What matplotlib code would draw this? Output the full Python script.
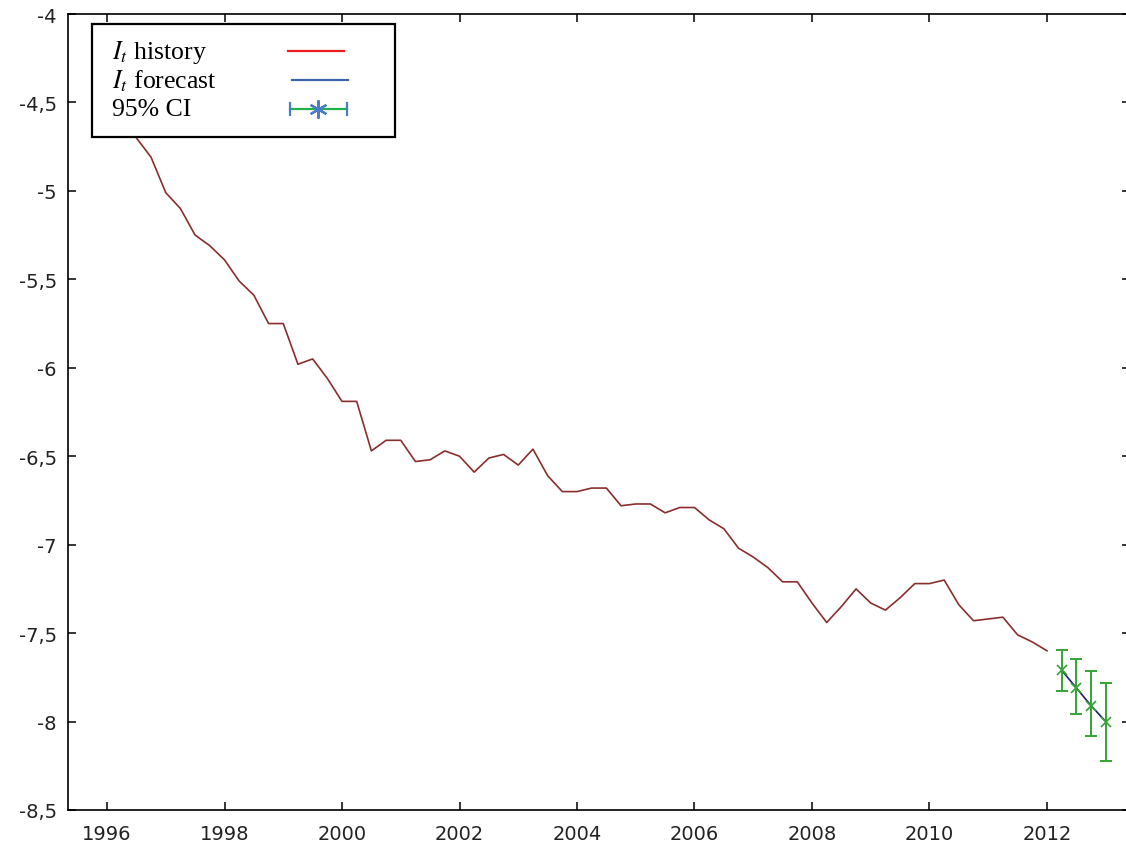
import numpy as np
import matplotlib
matplotlib.use("Agg")
import matplotlib.pyplot as plt
from matplotlib.lines import Line2D
from matplotlib.patches import Rectangle
from matplotlib.ticker import FuncFormatter

# Quarterly history of I_t, starting 1996Q2 (1996.25) and ending 2012.0
hist_start = 1996.25
hist_values = [
    -4.62, -4.70, -4.81, -5.01, -5.10, -5.25, -5.31,
    -5.39, -5.51, -5.59, -5.75, -5.75, -5.98, -5.95, -6.06,
    -6.19, -6.19, -6.47, -6.41, -6.41, -6.53, -6.52, -6.47,
    -6.50, -6.59, -6.51, -6.49, -6.55, -6.46, -6.61, -6.70,
    -6.70, -6.68, -6.68, -6.78, -6.77, -6.77, -6.82, -6.79,
    -6.79, -6.86, -6.91, -7.02, -7.07, -7.13, -7.21, -7.21,
    -7.33, -7.44, -7.35, -7.25, -7.33, -7.37, -7.30, -7.22,
    -7.22, -7.20, -7.34, -7.43, -7.42, -7.41, -7.51, -7.55,
    -7.60,
]

# Forecast with 95% interval
fc_years = [2012.25, 2012.5, 2012.75, 2013.0]
fc_values = [-7.71, -7.81, -7.91, -8.00]
fc_lower = [-7.825, -7.957, -8.080, -8.221]
fc_upper = [-7.595, -7.646, -7.712, -7.784]

y_ticks = [-8.5, -8.0, -7.5, -7.0, -6.5, -6.0, -5.5, -5.0, -4.5, -4.0]
x_ticks = [1996, 1998, 2000, 2002, 2004, 2006, 2008, 2010, 2012]

hist_years = hist_start + 0.25 * np.arange(len(hist_values))

W, H = 1126, 845
plt.rcParams["mathtext.fontset"] = "stix"

fig = plt.figure(figsize=(W / 100, H / 100), dpi=100)
# right edge sits just past the canvas so only the mirrored ticks show
ax = fig.add_axes([68 / W, 1 - 811 / H, (1130 - 68) / W, (811 - 15) / H])

ax.plot(hist_years, hist_values, color="#8a2e2e", lw=1.2, zorder=2)
ax.plot(fc_years, fc_values, color="#1c1f6b", lw=1.2, zorder=3)
fc_values_arr = np.array(fc_values)
yerr = [fc_values_arr - np.array(fc_lower), np.array(fc_upper) - fc_values_arr]
ax.errorbar(fc_years, fc_values, yerr=yerr, fmt="none", ecolor="#34a434",
            elinewidth=1.4, capsize=4, capthick=1.4, zorder=4)
ax.plot(fc_years, fc_values, ls="none", marker="x", color="#34a434",
        ms=7, mew=1.2, zorder=5)

ax.set_xlim(1995.336, 2013.413)
ax.set_ylim(-8.5, -4.0)
ax.set_xticks(x_ticks)
ax.set_yticks(y_ticks)
ax.yaxis.set_major_formatter(FuncFormatter(lambda v, p: f"{v:g}".replace(".", ",")))

for s in ax.spines.values():
    s.set_linewidth(1.2)
ax.tick_params(direction="in", length=6, width=1.1, top=True, right=True,
               labelsize=14, labelcolor="#222222")
ax.tick_params(axis="x", pad=10)
ax.tick_params(axis="y", pad=8)

# Key box drawn in figure pixels
def fx(px):
    return px / W

def fy(py):
    return 1 - py / H

fig.patches.append(Rectangle((fx(92), fy(138)), fx(395) - fx(92), fy(25) - fy(138),
                             transform=fig.transFigure, facecolor="white",
                             edgecolor="black", lw=1.6, zorder=10))
labels = [r"$I_t$ history", r"$I_t$ forecast", "95% CI"]
rows = [52, 81, 110]
for lab, ry in zip(labels, rows):
    fig.text(fx(112), fy(ry), lab, family="Liberation Serif", fontsize=18.5,
             va="center", ha="left", zorder=11)

fig.lines.append(Line2D([fx(288), fx(344)], [fy(52), fy(52)], transform=fig.transFigure,
                        color="#ee1c1c", lw=1.6, zorder=11))
fig.lines.append(Line2D([fx(292), fx(348)], [fy(81), fy(81)], transform=fig.transFigure,
                        color="#3d67ad", lw=1.6, zorder=11))
fig.lines.append(Line2D([fx(290), fx(347)], [fy(110), fy(110)], transform=fig.transFigure,
                        color="#22b24c", lw=1.6, zorder=11))
for cx in (290, 347):
    fig.lines.append(Line2D([fx(cx), fx(cx)], [fy(104), fy(116)], transform=fig.transFigure,
                            color="#4a7cc7", lw=1.6, zorder=12))
fig.lines.append(Line2D([fx(318)], [fy(110)], transform=fig.transFigure, ls="none",
                        marker=(6, 2, 0), ms=13, mew=1.6, color="#4a7cc7", zorder=12))

fig.savefig("out.png", dpi=100)
